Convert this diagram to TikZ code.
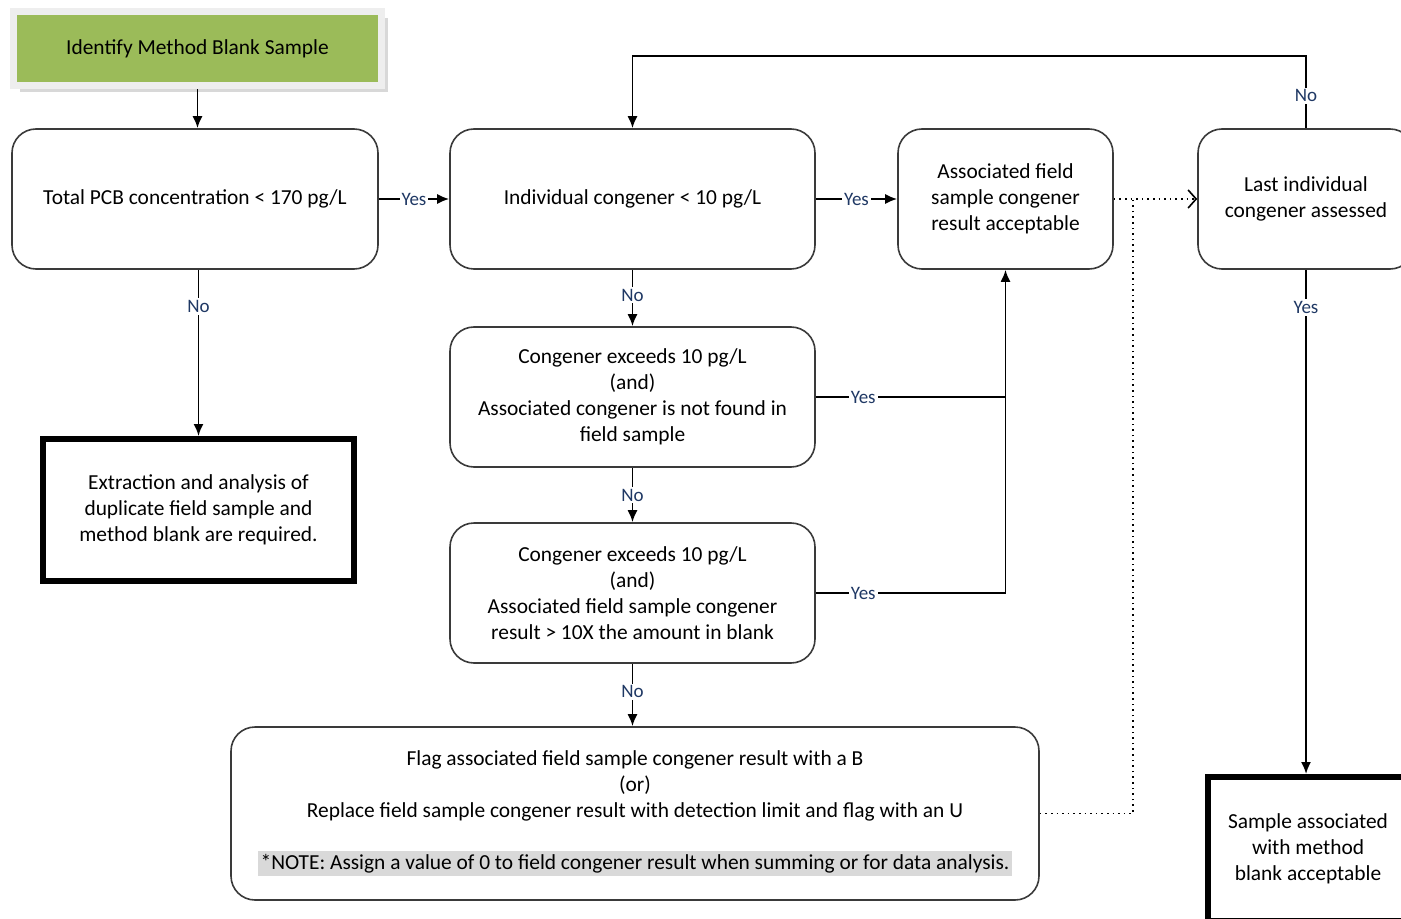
\documentclass[tikz,border=0pt]{standalone}
\usepackage{fontspec}
\setmainfont{Carlito}
\usepackage{xcolor}
\usepackage{tikz}
\usetikzlibrary{arrows.meta,shadows}

\definecolor{boxgreen}{HTML}{9BBB59}
\definecolor{framegray}{HTML}{EEEEEE}
\definecolor{notegray}{HTML}{D9D9D9}
\definecolor{labelblue}{HTML}{1F3864}
\definecolor{edgegray}{HTML}{3A3A3A}

\begin{document}
\begin{tikzpicture}[
  >={Latex[length=6pt,width=5pt]},
  x=0.5pt, y=-0.5pt,
  every node/.style={font=\fontsize{10.7}{13}\selectfont, align=center},
  flowbox/.style={draw=edgegray, line width=0.8pt, rounded corners=12pt, minimum height=70pt},
  endbox/.style={draw=black, line width=3pt},
  lbl/.style={fill=white, inner sep=1pt, text=labelblue, font=\fontsize{9.5}{10}\selectfont},
  link/.style={->, line width=0.9pt}
]
  \useasboundingbox (0,0) rectangle (1401,919);
  \clip (0,0) rectangle (1401,919);

  \node[
    fill=boxgreen,
    draw=framegray,
    line width=3.5pt,
    minimum width=184pt,
    minimum height=37pt,
    drop shadow={shadow xshift=3pt, shadow yshift=-3pt, fill=gray!60}
  ] (identify) at (197.5,49) {Identify Method Blank Sample};

  \node[flowbox, minimum width=183pt] (totalpcb) at (195,199)
    {\strut Total PCB concentration < 170 pg/L};
  \node[flowbox, minimum width=182.5pt] (single) at (632.5,199)
    {\strut Individual congener < 10 pg/L};
  \node[flowbox, minimum width=107.5pt] (accept) at (1005.5,199)
    {Associated field\\sample congener\\result acceptable};
  \node[flowbox, minimum width=108pt] (lastone) at (1306,199)
    {Last individual\\congener assessed};

  \node[endbox, minimum width=155.5pt, minimum height=71pt] (extract) at (198.5,510)
    {Extraction and analysis of\\duplicate field sample and\\method blank are required.};

  \node[flowbox, minimum width=182.5pt] (notfound) at (632.5,397)
    {Congener exceeds 10 pg/L\\(and)\\Associated congener is not found in\\field sample};
  \node[flowbox, minimum width=182.5pt] (tenfold) at (632.5,593)
    {Congener exceeds 10 pg/L\\(and)\\Associated field sample congener\\result > 10X the amount in blank};

  \node[flowbox, minimum width=404pt, minimum height=86.5pt] (flag) at (635,813.5)
    {Flag associated field sample congener result with a B\\(or)\\Replace field sample congener result with detection limit and flag with an U\\[13pt]{\fboxsep=1.5pt\colorbox{notegray}{*NOTE: Assign a value of 0 to field congener result when summing or for data analysis.}}};

  \node[endbox, minimum width=100pt, minimum height=72pt] (blankok) at (1308,849)
    {Sample associated\\with method\\blank acceptable};

  \coordinate (dotjoin) at (1133,199);

  \draw[link] (identify) -- (identify |- totalpcb.north);
  \draw[link] (totalpcb) -- node[lbl]{Yes} (single);
  \draw[link] (single) -- node[lbl]{Yes} (accept);
  \draw[dotted, line width=0.8pt, -{Straight Barb[length=4pt,width=9pt]}] (accept) -- (lastone);
  \draw[dotted, line width=0.8pt] (flag.east) -| (dotjoin);
  \draw[link] (lastone.north) -- node[lbl, pos=0.45]{No} ++(0,-72) -| (single.north);
  \draw[link] (lastone.south) -- node[lbl, pos=0.075]{Yes} (lastone.south |- blankok.north);
  \draw[link] (extract.north |- totalpcb.south) -- node[lbl, pos=0.22]{No} (extract.north);
  \draw[link] (single) -- node[lbl, pos=0.45]{No} (notfound);
  \draw[link] (notfound) -- node[lbl]{No} (tenfold);
  \draw[link] (tenfold) -- node[lbl, pos=0.45]{No} (tenfold |- flag.north);
  \draw[link] (notfound) -| node[lbl, pos=0.125]{Yes} (accept);
  \draw[line width=0.9pt] (tenfold) -| node[lbl, pos=0.125]{Yes} (notfound -| accept);
\end{tikzpicture}
\end{document}
